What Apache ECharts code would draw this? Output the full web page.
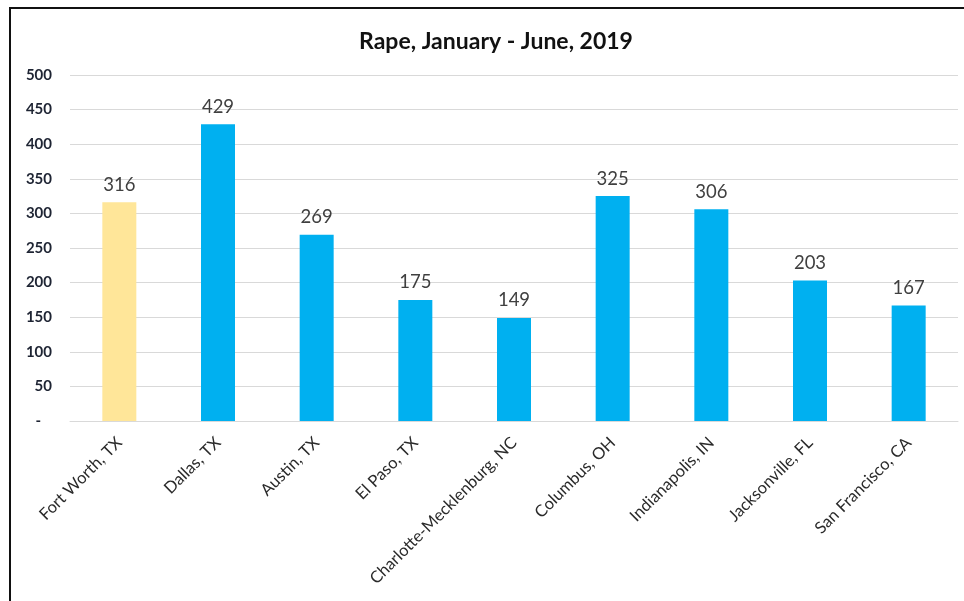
<!DOCTYPE html>
<html>
<head>
<meta charset="utf-8">
<script src="https://cdn.jsdelivr.net/npm/echarts@6/dist/echarts.min.js"></script>
<style>
html,body{margin:0;padding:0;background:#fff;}
#chart{width:964px;height:601px;}
</style>
</head>
<body>
<div id="chart"></div>
<script>
const categories = ['Fort Worth, TX','Dallas, TX','Austin, TX','El Paso, TX','Charlotte-Mecklenburg, NC','Columbus, OH','Indianapolis, IN','Jacksonville, FL','San Francisco, CA'];
const values = [316, 429, 269, 175, 149, 325, 306, 203, 167];
const highlightIndex = 0;
const titleText = 'Rape, January - June, 2019';

const chart = echarts.init(document.getElementById('chart'), null, {renderer:'canvas'});
const font = 'Lato, "Open Sans", sans-serif';
chart.setOption({
  animation:false,
  backgroundColor:'#fff',
  title:{
    text:titleText,
    left:491, top:25, textAlign:'center',
    textStyle:{fontFamily:font, fontSize:23, fontWeight:'bold', color:'#111'}
  },
  graphic:[{
    type:'rect', shape:{x:10, y:8, width:1000, height:700},
    style:{fill:null, stroke:'#111', lineWidth:2}, silent:true
  }],
  grid:{left:70, right:6, top:75, bottom:180},
  xAxis:{
    type:'category', data:categories,
    axisLine:{lineStyle:{color:'#d9d9d9', width:1}},
    axisTick:{show:false},
    axisLabel:{rotate:45, interval:0, fontFamily:font, fontSize:16.5, color:'#2a2a2a', margin:19}
  },
  yAxis:{
    type:'value', min:0, max:500, interval:50,
    axisLine:{show:false}, axisTick:{show:false},
    splitLine:{lineStyle:{color:'#d9d9d9', width:1}},
    axisLabel:{fontFamily:font, fontSize:15, fontWeight:'bold', color:'#1e2433', margin:18, align:'right',
      formatter:v => v === 0 ? '-   ' : String(v)}
  },
  series:[{
    type:'bar', barWidth:34,
    data:values.map((v,i)=>({value:v, itemStyle:{color: i===highlightIndex ? '#FFE699' : '#00B0F0'}})),
    label:{show:true, position:'top', distance:8, fontFamily:font, fontSize:18.5, color:'#404040'}
  }]
});
</script>
</body>
</html>
